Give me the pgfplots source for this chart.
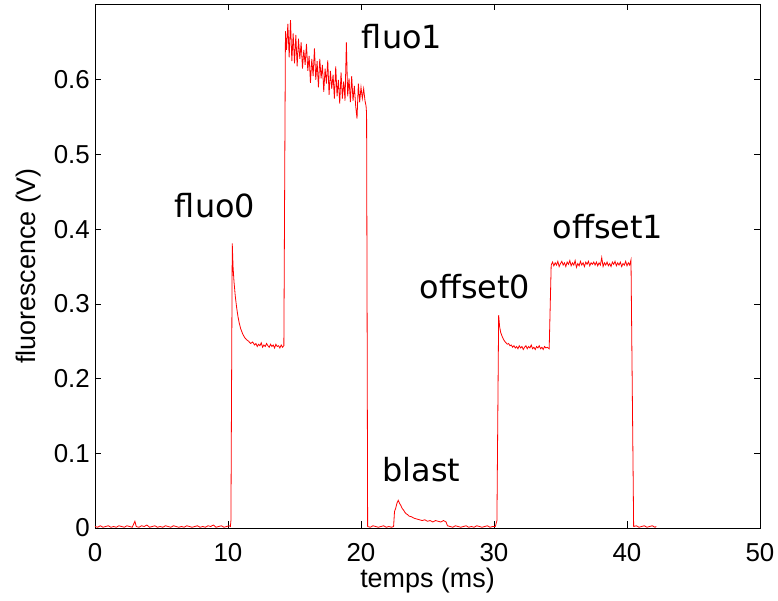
\documentclass[border=0pt]{standalone}
\usepackage{fontspec}
\setmainfont{Liberation Sans}
\newfontfamily\annfont{DejaVu Sans}
\usepackage{pgfplots}
\pgfplotsset{compat=1.18}
\pgfplotstableread{
x y
0.0 0.002
0.2 0.001
0.4 0.003
0.6 0.001
0.8 0.002
1.0 0.003
1.2 0.001
1.4 0.002
1.6 0.001
1.8 0.003
2.0 0.002
2.2 0.001
2.4 0.003
2.6 0.002
2.8 0.001
3.0 0.009
3.1 0.002
3.3 0.001
3.5 0.003
3.7 0.002
3.9 0.004
4.1 0.001
4.3 0.002
4.5 0.003
4.7 0.001
4.9 0.002
5.1 0.001
5.3 0.003
5.5 0.002
5.7 0.001
5.9 0.003
6.1 0.002
6.3 0.001
6.5 0.002
6.7 0.001
6.9 0.003
7.1 0.002
7.3 0.001
7.5 0.002
7.7 0.003
7.9 0.001
8.1 0.002
8.3 0.001
8.5 0.003
8.7 0.002
8.9 0.004
9.1 0.001
9.3 0.002
9.5 0.003
9.7 0.001
9.9 0.002
10.1 0.003
10.18 0.002
10.22 0.010
10.32 0.381
10.38 0.350
10.45 0.330
10.55 0.310
10.65 0.295
10.75 0.283
10.85 0.274
10.95 0.267
11.1 0.260
11.25 0.255
11.4 0.252
11.55 0.250
11.7 0.247
11.85 0.249
12.0 0.245
12.1 0.247
12.2 0.243
12.3 0.246
12.4 0.244
12.5 0.248
12.6 0.242
12.7 0.245
12.8 0.243
12.9 0.247
13.0 0.244
13.1 0.242
13.2 0.246
13.3 0.243
13.4 0.245
13.5 0.241
13.6 0.246
13.7 0.243
13.8 0.244
13.9 0.241
14.0 0.245
14.1 0.242
14.2 0.244
14.32 0.665
14.4 0.640
14.5 0.675
14.6 0.630
14.7 0.680
14.8 0.625
14.9 0.662
15.0 0.622
15.1 0.660
15.2 0.618
15.3 0.655
15.4 0.628
15.5 0.650
15.6 0.615
15.7 0.640
15.8 0.620
15.9 0.648
16.0 0.612
16.1 0.632
16.2 0.596
16.3 0.628
16.4 0.605
16.5 0.642
16.6 0.600
16.7 0.625
16.8 0.590
16.9 0.628
17.0 0.602
17.1 0.620
17.2 0.584
17.3 0.615
17.4 0.595
17.5 0.626
17.6 0.580
17.7 0.612
17.8 0.588
17.9 0.607
18.0 0.575
18.1 0.618
18.2 0.578
18.3 0.600
18.4 0.568
18.5 0.610
18.6 0.575
18.7 0.598
18.8 0.572
18.9 0.650
19.0 0.578
19.1 0.602
19.2 0.570
19.3 0.605
19.4 0.572
19.5 0.592
19.6 0.565
19.7 0.548
19.8 0.595
19.9 0.570
20.0 0.590
20.1 0.575
20.2 0.588
20.3 0.572
20.38 0.565
20.42 0.555
20.50 0.002
20.7 0.001
20.9 0.003
21.1 0.002
21.3 0.001
21.5 0.002
21.7 0.003
21.9 0.001
22.1 0.002
22.3 0.001
22.45 0.002
22.52 0.022
22.6 0.026
22.7 0.033
22.8 0.037
22.9 0.033
23.0 0.030
23.1 0.026
23.2 0.024
23.3 0.021
23.4 0.019
23.5 0.018
23.6 0.016
23.8 0.015
24.0 0.013
24.2 0.012
24.4 0.011
24.6 0.010
24.8 0.011
25.0 0.009
25.2 0.010
25.4 0.008
25.6 0.010
25.8 0.009
26.0 0.008
26.2 0.010
26.4 0.008
26.5 0.003
26.7 0.002
26.9 0.001
27.1 0.003
27.3 0.002
27.5 0.001
27.7 0.002
27.9 0.003
28.1 0.001
28.3 0.002
28.5 0.001
28.7 0.003
28.9 0.002
29.1 0.001
29.3 0.002
29.5 0.003
29.7 0.001
29.9 0.002
30.1 0.002
30.22 0.010
30.35 0.285
30.42 0.270
30.5 0.262
30.6 0.257
30.7 0.253
30.8 0.250
30.9 0.248
31.0 0.246
31.1 0.247
31.2 0.244
31.3 0.245
31.4 0.242
31.5 0.244
31.6 0.241
31.7 0.243
31.8 0.240
31.9 0.244
32.0 0.241
32.1 0.243
32.2 0.239
32.3 0.242
32.4 0.244
32.5 0.240
32.6 0.243
32.7 0.241
32.8 0.245
32.9 0.240
33.0 0.242
33.1 0.239
33.2 0.243
33.3 0.241
33.4 0.244
33.5 0.240
33.6 0.242
33.7 0.239
33.8 0.243
33.9 0.241
34.0 0.242
34.15 0.240
34.3 0.352
34.4 0.356
34.5 0.351
34.6 0.355
34.7 0.352
34.8 0.357
34.9 0.350
35.0 0.354
35.1 0.357
35.2 0.352
35.3 0.355
35.4 0.350
35.5 0.356
35.6 0.353
35.7 0.358
35.8 0.351
35.9 0.355
36.0 0.352
36.1 0.358
36.2 0.349
36.3 0.354
36.4 0.351
36.5 0.357
36.6 0.352
36.7 0.355
36.8 0.350
36.9 0.356
37.0 0.353
37.1 0.357
37.2 0.351
37.3 0.355
37.4 0.353
37.5 0.356
37.6 0.352
37.7 0.356
37.8 0.351
37.9 0.355
38.0 0.352
38.1 0.362
38.2 0.350
38.3 0.355
38.4 0.352
38.5 0.356
38.6 0.351
38.7 0.354
38.8 0.350
38.9 0.356
39.0 0.353
39.1 0.357
39.2 0.351
39.3 0.355
39.4 0.352
39.5 0.356
39.6 0.350
39.7 0.354
39.8 0.352
39.9 0.357
40.0 0.351
40.1 0.355
40.2 0.352
40.3 0.359
40.5 0.002
40.7 0.003
40.9 0.001
41.1 0.002
41.3 0.003
41.5 0.001
41.7 0.002
41.9 0.003
42.1 0.001
42.2 0.002
}\trace
\begin{document}
\begin{tikzpicture}
\path[use as bounding box] (-95bp,-73bp) rectangle (683bp,528bp);
\begin{axis}[
  at={(0,0)}, anchor=south west,
  scale only axis,
  width=665bp, height=524bp,
  xmin=0, xmax=50, ymin=0, ymax=0.7015,
  xtick={0,10,20,30,40,50},
  ytick={0,0.1,0.2,0.3,0.4,0.5,0.6},
  yticklabel style={/pgf/number format/fixed},
  /pgf/number format/assume math mode=true,
  tick align=inside,
  major tick length=6.5bp,
  axis line style={line width=0.9bp},
  every tick/.style={black, line width=0.7bp},
  tick label style={font=\fontsize{26}{30}\selectfont, inner sep=0pt},
  xticklabel style={anchor=north, yshift=-15bp},
  yticklabel style={anchor=east, xshift=-5bp},
  xlabel={temps (ms)},
  ylabel={fluorescence (V)},
  label style={font=\fontsize{27}{32}\selectfont, inner sep=0pt},
  xlabel style={at={(axis description cs:0.5,-0.1126)}, anchor=base},
  ylabel style={at={(axis description cs:-0.0902,0.5)}, anchor=base},
  clip=false,
]
\addplot[red, line width=0.8bp, mark=none] table[x=x,y=y] {\trace};
\begin{scope}[every node/.style={font=\annfont\fontsize{32}{38}\selectfont, inner sep=0pt, anchor=base}]
\node at (axis cs:9.02,0.416) {fluo0};
\node at (axis cs:23.08,0.642) {fluo1};
\node at (axis cs:24.55,0.062) {blast};
\node at (axis cs:28.57,0.3075) {offset0};
\node at (axis cs:38.56,0.388) {offset1};
\end{scope}
\end{axis}
\end{tikzpicture}
\end{document}
